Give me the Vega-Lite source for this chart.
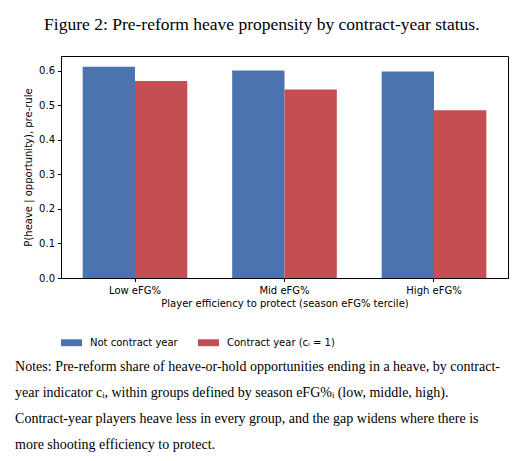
{
  "$schema": "https://vega.github.io/schema/vega-lite/v6.json",
  "padding": {"left": 15, "top": 16, "right": 5, "bottom": 3},
  "background": "white",
  "title": {
    "text": "Figure 2: Pre-reform heave propensity by contract-year status.",
    "font": "Liberation Serif",
    "fontSize": 17.5,
    "fontWeight": "normal",
    "color": "#000",
    "anchor": "middle",
    "offset": 22
  },
  "resolve": {"scale": {"color": "independent"}, "legend": {"color": "independent"}},
  "vconcat": [
    {
      "title": {
        "text": [
          "Notes: Pre-reform share of heave-or-hold opportunities ending in a heave, by contract-",
          "year indicator cᵢ, within groups defined by season eFG%ᵢ (low, middle, high).",
          "Contract-year players heave less in every group, and the gap widens where there is",
          "more shooting efficiency to protect."
        ],
        "orient": "bottom",
        "anchor": "start",
        "frame": "bounds",
        "dx": -8,
        "offset": 11,
        "font": "Liberation Serif",
        "fontSize": 14,
        "fontWeight": "normal",
        "lineHeight": 26,
        "color": "#000"
      },
      "resolve": {"scale": {"color": "independent"}, "legend": {"color": "independent"}},
      "vconcat": [
        {
          "width": 447,
          "height": 222,
          "data": {
            "values": [
              {"tercile": "Low eFG%", "status": "Not contract year", "p": 0.611},
              {"tercile": "Low eFG%", "status": "Contract year (cᵢ = 1)", "p": 0.570},
              {"tercile": "Mid eFG%", "status": "Not contract year", "p": 0.600},
              {"tercile": "Mid eFG%", "status": "Contract year (cᵢ = 1)", "p": 0.545},
              {"tercile": "High eFG%", "status": "Not contract year", "p": 0.597},
              {"tercile": "High eFG%", "status": "Contract year (cᵢ = 1)", "p": 0.485}
            ]
          },
          "mark": {"type": "bar"},
          "encoding": {
            "x": {
              "field": "tercile",
              "type": "nominal",
              "sort": ["Low eFG%", "Mid eFG%", "High eFG%"],
              "scale": {"paddingInner": 0.3, "paddingOuter": 0.145},
              "axis": {
                "title": "Player efficiency to protect (season eFG% tercile)",
                "labelAngle": 0,
                "labelPadding": 4,
                "titlePadding": 3
              }
            },
            "xOffset": {
              "field": "status",
              "type": "nominal",
              "sort": ["Not contract year", "Contract year (cᵢ = 1)"],
              "scale": {"paddingInner": 0, "paddingOuter": 0}
            },
            "y": {
              "field": "p",
              "type": "quantitative",
              "scale": {"domain": [0, 0.642], "nice": false, "zero": true},
              "axis": {
                "title": "P(heave | opportunity), pre-rule",
                "values": [0, 0.1, 0.2, 0.3, 0.4, 0.5, 0.6],
                "format": ".1f",
                "grid": false,
                "labelPadding": 3,
                "titlePadding": 5
              }
            },
            "color": {
              "field": "status",
              "type": "nominal",
              "sort": ["Not contract year", "Contract year (cᵢ = 1)"],
              "scale": {"range": ["#4C72B0", "#C44E52"]},
              "legend": {
                "title": null,
                "orient": "bottom",
                "direction": "horizontal",
                "symbolType": "M-1,-0.33H1V0.33H-1Z",
                "symbolSize": 441,
                "symbolStrokeWidth": 0,
                "symbolOpacity": 1,
                "labelFont": "DejaVu Sans",
                "labelFontSize": 10,
                "labelColor": "#000",
                "labelOffset": 8,
                "columnPadding": 20,
                "offset": 23
              }
            }
          }
        }
      ]
    }
  ],
  "config": {
    "view": {"stroke": "#000", "strokeWidth": 1},
    "axis": {
      "labelFont": "DejaVu Sans",
      "labelFontSize": 10,
      "labelColor": "#000",
      "titleFont": "DejaVu Sans",
      "titleFontSize": 10,
      "titleFontWeight": "normal",
      "titleColor": "#000",
      "domainColor": "#000",
      "tickColor": "#000",
      "tickSize": 3.5,
      "grid": false
    }
  }
}
